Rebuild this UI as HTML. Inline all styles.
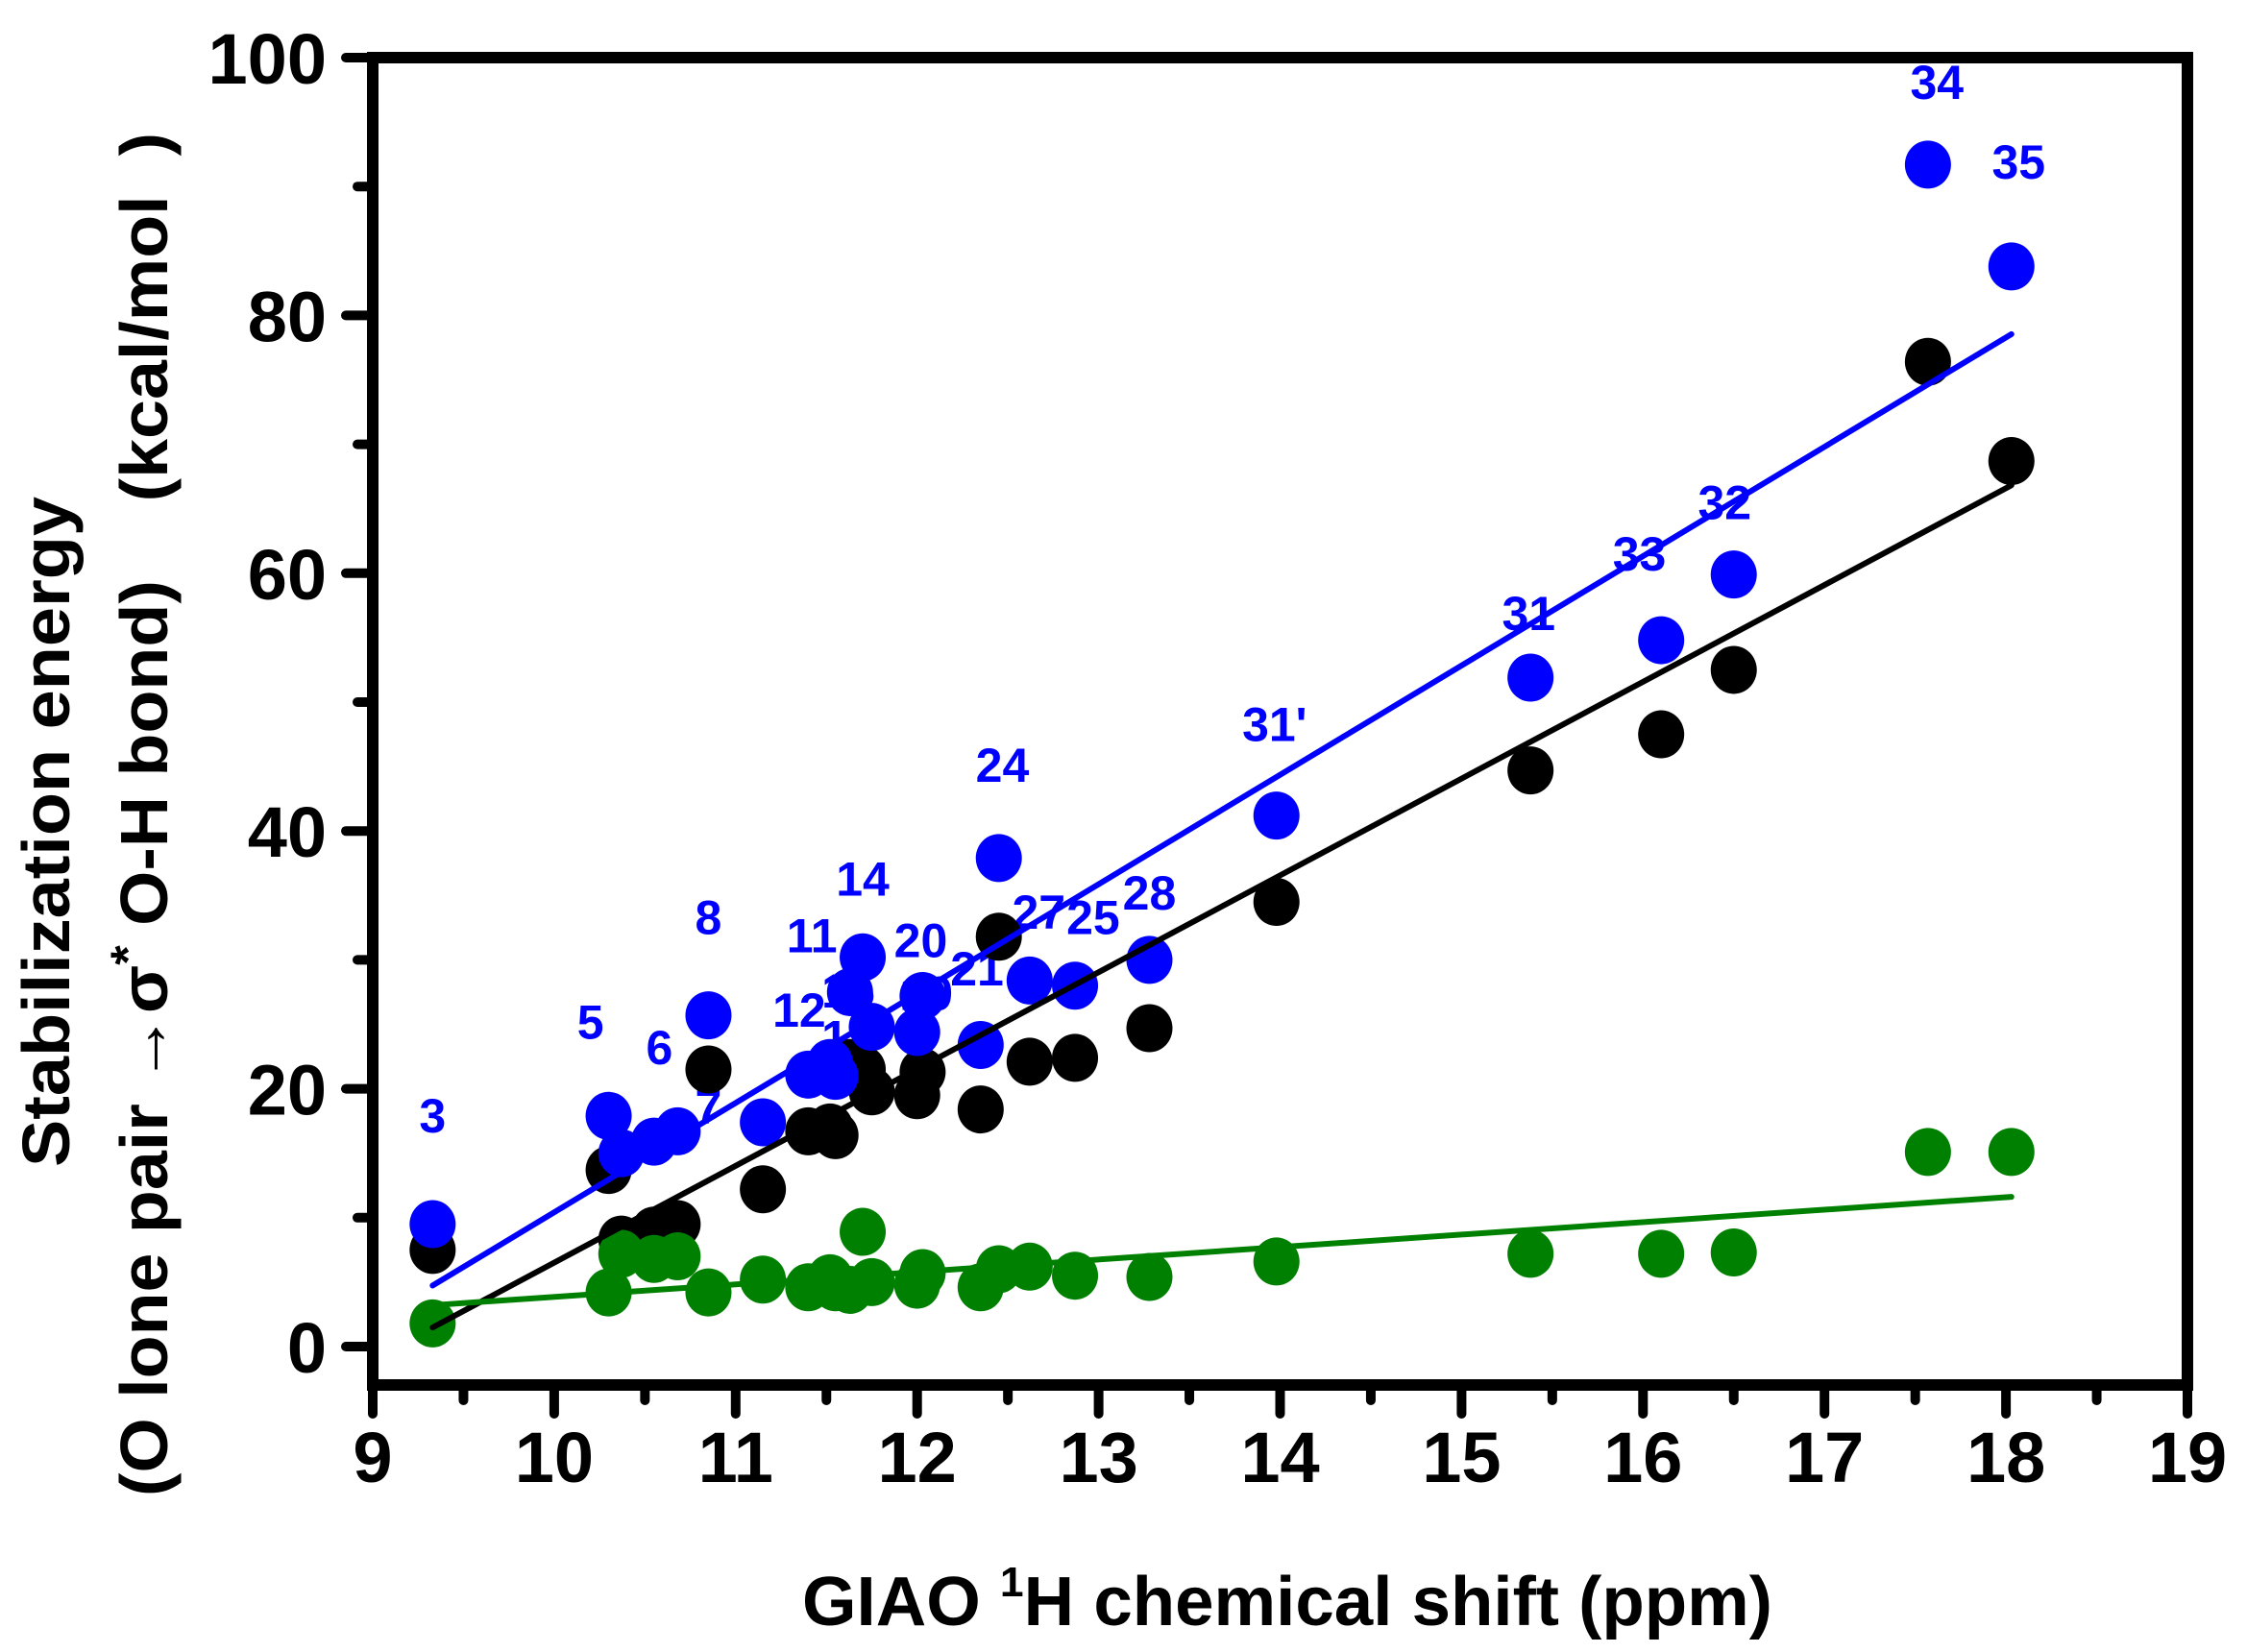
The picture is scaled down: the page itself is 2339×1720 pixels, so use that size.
<!DOCTYPE html>
<html><head><meta charset="utf-8"><style>
html,body{margin:0;padding:0;background:#fff;}
svg{display:block;font-family:"Liberation Sans",Arial,sans-serif;font-weight:bold;}
</style></head><body>
<svg id="chart" width="2339" height="1720" viewBox="0 0 2339 1720" xmlns="http://www.w3.org/2000/svg">
<g id="labels"></g>
<g id="marks"></g>
<g id="fits"></g>
<g id="axes"></g>
<text x="1340" y="1692" font-size="72" text-anchor="middle" textLength="1010" lengthAdjust="spacingAndGlyphs">GIAO <tspan font-size="44" dy="-30">1</tspan><tspan dy="30">H chemical shift (ppm)</tspan></text>
<text transform="translate(72,866) rotate(-90)" font-size="70" text-anchor="middle" textLength="698" lengthAdjust="spacingAndGlyphs">Stabilization energy</text>
<text transform="translate(174,848) rotate(-90)" font-size="70" text-anchor="middle" textLength="1420" lengthAdjust="spacingAndGlyphs">(O lone pair →σ<tspan font-size="50" dy="-24">*</tspan><tspan dy="24"> O-H bond)&#160;&#160;&#160;&#160;(kcal/mol&#160;&#160;)</tspan></text>
</svg>
<script>
const xs    = [9.33,10.3,10.37,10.55,10.68,10.85,11.15,11.4,11.52,11.55,11.63,11.7,11.75,12.0,12.03,12.35,12.45,12.62,12.87,13.28,13.98,15.38,16.1,16.5,17.57,18.03];
const black = [7.5,13.7,8.3,9.0,9.5,21.5,12.2,16.7,17.0,16.4,22.0,21.5,19.8,19.5,21.3,18.4,31.8,22.1,22.4,24.7,34.5,44.7,47.5,52.5,76.4,68.7];
const blue  = [9.5,17.9,15.0,15.9,16.7,25.7,17.4,21.1,22.0,21.0,27.5,30.2,24.8,24.4,27.2,23.4,37.9,28.4,28.0,30.0,41.2,51.9,54.8,59.9,91.7,83.8];
const green = [1.8,4.2,7.2,6.8,7.0,4.2,5.2,4.6,5.3,4.6,4.4,8.9,5.0,4.8,5.7,4.6,6.0,6.2,5.5,5.4,6.6,7.2,7.2,7.3,15.1,15.1];
const labelText = ["3","5","6","7","8","11","12","14","15","13","20","19","21","24","27","25","28","31'","31","33","32","34","35"];
const labelX    = [9.33,10.2,10.58,10.85,10.85,11.42,11.35,11.7,11.62,11.62,12.02,12.05,12.33,12.47,12.67,12.97,13.28,13.97,15.37,15.98,16.45,17.62,18.07];
const labelY    = [16.6,23.9,21.9,17.3,32.0,30.6,24.8,35.0,26.3,22.7,30.2,26.1,28.0,43.8,32.4,32.0,33.9,47.0,55.6,60.2,64.2,96.8,90.6];
const xTicks = [9,10,11,12,13,14,15,16,17,18,19];
const yTicks = [0,20,40,60,80,100];

const NS="http://www.w3.org/2000/svg";
const X0=388, PX=188.9, Y0=1402, PY=13.42;
const sx=v=>X0+(v-9)*PX, sy=v=>Y0-v*PY;
function mk(tag,attrs,parent){const e=document.createElementNS(NS,tag);for(const k in attrs)e.setAttribute(k,attrs[k]);parent.appendChild(e);return e;}

const labels=document.getElementById('labels');
labelText.forEach((t,i)=>{
  const e=mk('text',{x:sx(labelX[i]),y:sy(labelY[i]),'font-size':50,fill:'#0000ff','text-anchor':'middle'},labels);
  
  
  e.textContent=t;
});

const marks=document.getElementById('marks');
const series=[[black,'#000000','black-point'],[blue,'#0000ff','blue-point'],[green,'#008000','green-point']];
series.forEach(([ys,col,name])=>{
  ys.forEach((v,i)=>{
    const c=mk('ellipse',{cx:sx(xs[i]),cy:sy(v),rx:24,ry:25,fill:col},marks);
    
    
  });
});

const fits=document.getElementById('fits');
function fit(ys){const n=xs.length;let mx=0,my=0;for(let i=0;i<n;i++){mx+=xs[i];my+=ys[i];}mx/=n;my/=n;let sxy=0,sxx=0;for(let i=0;i<n;i++){sxy+=(xs[i]-mx)*(ys[i]-my);sxx+=(xs[i]-mx)**2;}const b=sxy/sxx;return [my-b*mx,b];}
series.forEach(([ys,col,name])=>{
  const [a,b]=fit(ys);
  const x1=xs[0], x2=xs[xs.length-1];
  const l=mk('line',{x1:sx(x1),y1:sy(a+b*x1),x2:sx(x2),y2:sy(a+b*x2),stroke:col,'stroke-width':6,'stroke-linecap':'round'},fits);
  
  
});

const axes=document.getElementById('axes');
const frame=mk('rect',{x:388,y:60,width:sx(19)-388,height:1442-60,fill:'none',stroke:'#000','stroke-width':12},axes);


xTicks.forEach((v,i)=>{
  const t=mk('line',{x1:sx(v),y1:1442,x2:sx(v),y2:1472,stroke:'#000','stroke-width':10,'stroke-linecap':'round'},axes);
  
  
  if(i<xTicks.length-1){
    const m=mk('line',{x1:sx(v+0.5),y1:1442,x2:sx(v+0.5),y2:1458,stroke:'#000','stroke-width':10,'stroke-linecap':'round'},axes);
    
    
  }
  const lb=mk('text',{x:sx(v),y:1543,'font-size':74,'text-anchor':'middle'},axes);
  
  
  lb.textContent=v;
});
yTicks.forEach((v,i)=>{
  const t=mk('line',{x1:388,y1:sy(v),x2:360,y2:sy(v),stroke:'#000','stroke-width':10,'stroke-linecap':'round'},axes);
  
  
  if(i<yTicks.length-1){
    const m=mk('line',{x1:388,y1:sy(v+10),x2:372,y2:sy(v+10),stroke:'#000','stroke-width':10,'stroke-linecap':'round'},axes);
    
    
  }
  const lb=mk('text',{x:340,y:sy(v)+27,'font-size':74,'text-anchor':'end'},axes);
  
  
  lb.textContent=v;
});
</script>
</body></html>
